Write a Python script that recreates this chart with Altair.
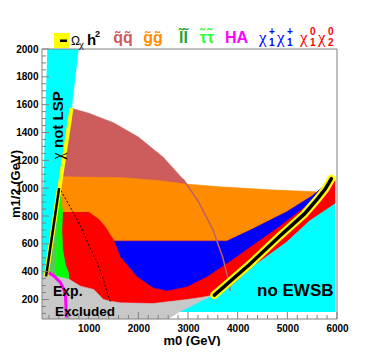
import altair as alt
import pandas as pd

# ---------------- axis ranges / tick values ----------------
X_DOMAIN = [60, 6000]
Y_DOMAIN = [60, 2000]
x_labels = [1000, 2000, 3000, 4000, 5000, 6000]
y_labels = [200, 400, 600, 800, 1000, 1200, 1400, 1600, 1800, 2000]
x_minor = [v for v in range(200, 6000, 200) if v % 1000 != 0]
y_minor = [v for v in range(100, 2000, 50) if v % 200 != 0]

# ---------------- regions (m0, m1/2 in GeV) ----------------
# squark-squark (indianred)
sq_m0 = [654, 1000, 1500, 2000, 2500, 2900, 3000, 3000, 390]
sq_m12 = [1574, 1539, 1470, 1367, 1222, 1065, 1017, 950, 950]
# squark boundary curve continuing below
arc_m0 = [2900, 3200, 3500, 3700, 3800, 3850]
arc_m12 = [1065, 910, 702, 503, 358, 262]
# gluino-gluino (orange)
gg_m0 = [233, 493, 1697, 2438, 2899, 3641, 4644, 5586, 5506, 4985, 4302, 3781, 1516, 1516, 300]
gg_m12 = [1082, 1082, 1075, 1053, 1031, 1010, 988, 974, 945, 829, 706, 619, 619, 560, 560]
# slepton (green) and stau (bright green)
ll_m0 = [400, 368, 342, 332, 132]
ll_m12 = [1008, 699, 412, 319, 319]
tt_m0 = [400, 475, 460, 475, 530, 593, 610, 332, 342, 368]
tt_m12 = [1008, 829, 700, 562, 450, 391, 319, 319, 412, 699]
# neutralino1-neutralino2 (red)
n2_m0 = [475, 460, 475, 530, 593, 610, 610, 2700, 3480, 3841, 4343, 4985, 5446, 5746, 5960, 5960, 5887,
         5746, 5506, 4985, 4302, 3781, 1516, 1436, 1335, 1195, 995]
n2_m12 = [829, 700, 562, 450, 391, 323, 150, 150, 229, 287, 446, 612, 764, 836, 887, 1060, 1068,
          1017, 945, 829, 706, 619, 619, 663, 721, 778, 829]
# chargino-chargino (blue)
c1_m0 = [1516, 3781, 4302, 4985, 5506, 5746, 5506, 4844, 4182, 3841, 3380, 2979, 2578, 2298, 1977, 1636]
c1_m12 = [619, 619, 706, 829, 945, 1017, 909, 728, 562, 475, 366, 294, 265, 287, 366, 511]
# chi not LSP (cyan wedge)
lsp_m0 = [166, 794, 654, 443, 142, 60, 60, 86]
lsp_m12 = [2000, 2000, 1574, 1068, 366, 366, 900, 1010]
# no EWSB (cyan)
ew_m0 = [2760, 3480, 3841, 4343, 4985, 5446, 5746, 5960, 5960]
ew_m12 = [110, 229, 287, 446, 612, 764, 836, 887, 110]
# experimentally excluded (grey)
ex_m0 = [60, 200, 400, 607, 834, 1101, 1201, 1295, 1436, 1636, 2298, 2979, 3300, 3480, 2799, 2598, 60]
ex_m12 = [376, 372, 362, 345, 296, 272, 236, 200, 188, 176, 171, 200, 217, 229, 106, 60, 60]
# relic density band along LSP boundary and focus point
lspband_m0 = [654, 142]
lspband_m12 = [1574, 366]
lspblack_m0 = [405, 142]
lspblack_m12 = [1000, 366]
fp_m0 = [3530, 4243, 4844, 5345, 5606, 5766, 5887]
fp_m12 = [232, 453, 655, 815, 923, 995, 1068]
# dashed line
dash_m0 = [400, 674, 868, 1035, 1169, 1295, 1395, 1436]
dash_m12 = [1008, 836, 706, 562, 468, 345, 222, 186]
# HA line (magenta)
ha_m0 = [198, 299, 433, 499, 533, 553]
ha_m12 = [393, 369, 321, 272, 224, 70]

# ---------------- layout ----------------
W, H = 295, 270
OX, OY = 42, 49  # page position of plot origin
FONT = "Liberation Sans"
SERIF = "Liberation Serif"

xs = alt.Scale(domain=X_DOMAIN, nice=False, zero=False)
ys = alt.Scale(domain=Y_DOMAIN, nice=False, zero=False)
x_axis = alt.Axis(values=x_labels, format="d", title=None, ticks=False, domain=False, grid=False,
                  labelFont=FONT, labelFontSize=10, labelFontWeight="bold",
                  labelColor="black", labelPadding=4, labelFlush=False)
y_axis = alt.Axis(values=y_labels, format="d", title=None, ticks=False, domain=False, grid=False,
                  labelFont=FONT, labelFontSize=10, labelFontWeight="bold",
                  labelColor="black", labelPadding=4, labelFlush=False)


def XE(f="m0"):
    return alt.X(f"{f}:Q", scale=xs, axis=x_axis)


def YE(f="m12"):
    return alt.Y(f"{f}:Q", scale=ys, axis=y_axis)


def poly(m0, m12, color):
    df = pd.DataFrame({"m0": m0, "m12": m12, "i": list(range(len(m0)))})
    return alt.Chart(df).mark_line(fill=color, stroke=color, strokeWidth=0.6,
                                   interpolate="linear", clip=True).encode(
        x=XE(), y=YE(), order=alt.Order("i:Q"))


def path(m0, m12, color, width, dash=None, cap="butt"):
    df = pd.DataFrame({"m0": m0, "m12": m12, "i": list(range(len(m0)))})
    kw = dict(color=color, strokeWidth=width, interpolate="linear", clip=True, strokeCap=cap)
    if dash:
        kw["strokeDash"] = dash
    return alt.Chart(df).mark_line(**kw).encode(x=XE(), y=YE(), order=alt.Order("i:Q"))


one = pd.DataFrame({"a": [0]})


def txt(s, px, py, size, color="black", weight="bold", align="left", angle=0,
        baseline="alphabetic", font=FONT):
    return alt.Chart(one).mark_text(text=s, font=font, fontSize=size, fontWeight=weight,
                                    color=color, align=align, angle=angle,
                                    baseline=baseline).encode(
        x=alt.value(px - OX), y=alt.value(py - OY))


def box(x1, y1, x2, y2, color):
    return alt.Chart(one).mark_rect(color=color).encode(
        x=alt.value(x1 - OX), x2=alt.value(x2 - OX), y=alt.value(y1 - OY), y2=alt.value(y2 - OY))


layers = [
    poly(sq_m0, sq_m12, "#CD5C5C"),
    poly(gg_m0, gg_m12, "#FF8C00"),
    poly(n2_m0, n2_m12, "#FF0000"),
    poly(c1_m0, c1_m12, "#0000FF"),
    poly(ll_m0, ll_m12, "#55C855"),
    poly(tt_m0, tt_m12, "#00FF00"),
    poly(lsp_m0, lsp_m12, "#00FFFF"),
    poly(ew_m0, ew_m12, "#00FFFF"),
    poly(ex_m0, ex_m12, "#C8C8C8"),
    path(arc_m0, arc_m12, "#C06060", 1.5),
    path(dash_m0, dash_m12, "black", 1, dash=[2, 2]),
    path(lspband_m0, lspband_m12, "#FFFF00", 4),
    path(lspblack_m0, lspblack_m12, "#FFFF00", 4.5),
    path(lspblack_m0, lspblack_m12, "black", 2.5),
    path(fp_m0, fp_m12, "#FFFF00", 8, cap="round"),
    path(fp_m0, fp_m12, "black", 3.5, cap="round"),
    path(ha_m0, ha_m12, "#FF00FF", 3),
]

# ticks (inside the frame)
tick_col = "#808080"
layers += [
    alt.Chart(pd.DataFrame({"v": y_labels})).mark_rule(color=tick_col, strokeWidth=1).encode(
        y=YE("v"), x=alt.value(0), x2=alt.value(7)),
    alt.Chart(pd.DataFrame({"v": y_minor})).mark_rule(color=tick_col, strokeWidth=1).encode(
        y=YE("v"), x=alt.value(0), x2=alt.value(4)),
    alt.Chart(pd.DataFrame({"v": x_labels})).mark_rule(color=tick_col, strokeWidth=1).encode(
        x=XE("v"), y=alt.value(H), y2=alt.value(H - 7)),
    alt.Chart(pd.DataFrame({"v": x_minor})).mark_rule(color=tick_col, strokeWidth=1).encode(
        x=XE("v"), y=alt.value(H), y2=alt.value(H - 4)),
    alt.Chart(one).mark_rect(fillOpacity=0, stroke=tick_col, strokeWidth=1).encode(
        x=alt.value(0), x2=alt.value(W), y=alt.value(0), y2=alt.value(H)),
]

# region annotations
layers += [
    txt("\u03c7", 58, 156, 16, weight="normal", angle=270, align="center", baseline="middle", font=SERIF),
    txt("not LSP", 58, 148, 15, angle=270, align="left", baseline="middle"),
    txt("Exp.", 53, 296, 14),
    txt("Excluded", 55, 316, 13.5),
    txt("no EWSB", 257, 296, 17),
    txt("m0 (GeV)", 192, 344.5, 13, align="center"),
    txt("m1/2 (GeV)", 16, 184, 13, angle=270, align="center", baseline="middle"),
]

# legend row
leg_labels = ["q\u0303q\u0303", "g\u0303g\u0303", "l\u0303l\u0303", "\u03c4\u0303\u03c4\u0303", "HA"]
leg_colors = ["#CD5C5C", "#FF8C00", "#1FA01F", "#33FF33", "#FF00FF"]
leg_centers = [123, 153, 183.5, 207, 236.5]
for lab, col, cx in zip(leg_labels, leg_colors, leg_centers):
    layers.append(txt(lab, cx, 43, 16, color=col, align="center"))

layers += [
    box(54, 33, 69, 48, "#FFFF00"),
    box(60, 39.5, 67, 42, "black"),
    txt("\u03a9", 71, 45, 12, weight="normal"),
    txt("\u03c7", 79, 48, 11, weight="normal", font=SERIF),
    txt("h", 87, 45, 15),
    txt("2", 95, 37, 9),
]
chi_groups = [
    ("#0000FF", [(259, "+", "1"), (277, "+", "1")]),
    ("#FF0000", [(300, "0", "1"), (318, "0", "2")]),
]
for col, items in chi_groups:
    for x0, sup, sub in items:
        layers += [
            txt("\u03c7", x0, 43, 17, color=col, weight="normal", font=SERIF),
            txt(sup, x0 + 10, 35, 10, color=col),
            txt(sub, x0 + 10, 46, 10, color=col),
        ]

chart = alt.layer(*layers).properties(
    width=W, height=H,
    autosize=alt.AutoSizeParams(type="none"),
    padding={"left": OX - 8, "top": OY - 8, "right": 358 - (OX - 8) - W, "bottom": 338 - (OY - 8) - H},
).configure_view(stroke=None)

chart.save("out.html", embed_options={"renderer": "svg", "actions": False})
